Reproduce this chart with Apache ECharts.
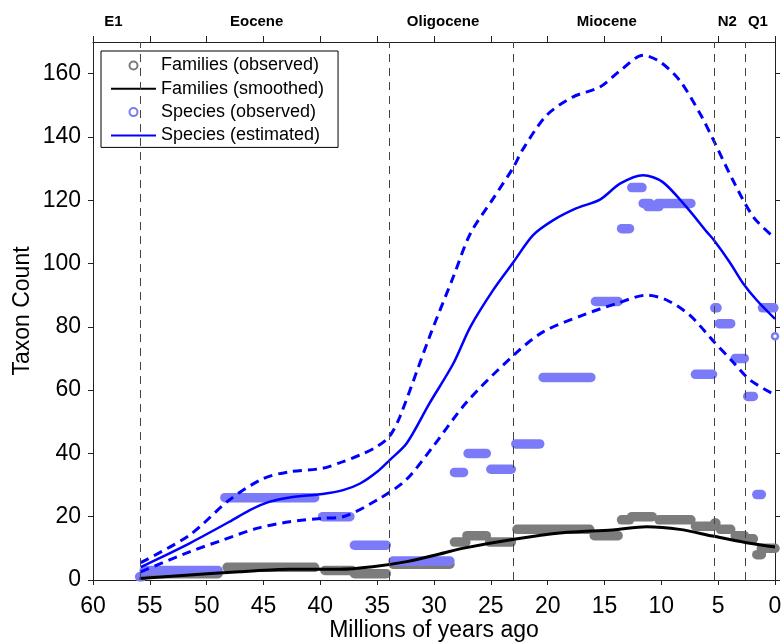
<!DOCTYPE html>
<html>
<head>
<meta charset="utf-8">
<script src="https://cdn.jsdelivr.net/npm/echarts@6/dist/echarts.min.js"></script>
<style>
html, body { margin: 0; padding: 0; background: #fff; }
#chart { width: 781px; height: 644px; }
</style>
</head>
<body>
<div id="chart"></div>
<script>
// x values are millions of years ago, axis is inverted (60 -> 0)
var xTicks = [0, 5, 10, 15, 20, 25, 30, 35, 40, 45, 50, 55, 60];
var yTicks = [0, 20, 40, 60, 80, 100, 120, 140, 160];

var epochNames = ['E1', 'Eocene', 'Oligocene', 'Miocene', 'N2', 'Q1'];
var epochLabelPos = [58.2, 45.6, 29.2, 14.8, 4.2, 1.5];
var epochBounds = [55.8, 33.9, 23.03, 5.332, 2.588];

// observed counts as [start, end, count] (one stage each)
var speciesObserved = [
    [55.9, 55.7, 1], [55.5, 49, 3], [48.4, 40.5, 26], [39.8, 37.4, 20], [37, 34.2, 11],
    [33.6, 28.6, 6], [28.2, 27.4, 34], [27, 25.4, 40], [25, 23.2, 35], [22.8, 20.7, 43],
    [20.4, 16.2, 64], [15.8, 13.8, 88], [13.5, 12.8, 111], [12.6, 11.7, 124], [11.6, 11.0, 119],
    [11.2, 10.2, 118], [10.3, 7.4, 119], [7.0, 5.5, 65], [5.3, 5.1, 86], [4.9, 3.9, 81],
    [3.5, 2.7, 70], [2.4, 1.9, 58], [1.6, 1.2, 27], [1.1, 0.1, 86], [0, 0, 77]
];
var familiesObserved = [
    [55.5, 49, 2], [48.2, 40.5, 4], [39.6, 37.2, 3], [37, 34.2, 2], [33.6, 28.6, 5],
    [28.2, 27.2, 12], [27.1, 25.4, 14], [25.1, 23.2, 12], [22.7, 16.3, 16], [15.9, 13.8, 14],
    [13.5, 12.8, 19], [12.6, 10.8, 20], [10.2, 7.4, 19], [7.0, 5.4, 17], [5.3, 5.2, 18],
    [4.8, 3.9, 16], [3.5, 2.7, 14], [2.4, 1.9, 13], [1.6, 1.2, 8], [1.2, 0, 10]
];

var speciesEstimated = [
    [55.8, 4.1], [54.1, 7], [51.5, 11.6], [48, 18.4], [46.2, 22.1], [44.5, 24.7],
    [42.7, 26.1], [39.8, 27.2], [38, 28.4], [36.5, 30.5], [35, 34.2], [33.9, 37.9],
    [32.4, 43.2], [30.4, 55.8], [28.3, 68.4], [26.8, 80], [24.8, 91.6], [23, 100.5],
    [21.3, 108.9], [19.5, 113.7], [17.5, 117.4], [15.4, 120.2], [13.6, 125.3], [11.6, 127.9],
    [9.9, 125.8], [7.8, 117.9], [6.0, 110], [5.4, 107.5], [4.0, 100.5], [2.8, 93.7],
    [1.6, 88.4], [0, 82.5]
];
var speciesUpper = [
    [55.8, 5.5], [51.5, 14.2], [48, 25.3], [45, 32.1], [42.7, 34.2], [39.8, 35.3],
    [38, 37.4], [36.5, 39.5], [35, 42.2], [33.9, 45.5], [33, 51.6], [30.4, 76.8],
    [28.3, 95.8], [26.8, 109.5], [24.8, 120.5], [23.0, 130.5], [22.2, 136], [20.1, 146.8],
    [17.8, 152.6], [15.4, 155.8], [13.6, 161], [11.6, 165.8], [10.1, 163.7], [8.4, 157.9],
    [6.6, 147.4], [5.4, 138.9], [3.7, 126.3], [1.9, 114.7], [0, 108]
];
var speciesLower = [
    [55.8, 2.6], [51.5, 8.9], [48.6, 12.6], [45.6, 16.3], [42.7, 18.4], [39.8, 19.5],
    [38, 20], [35, 25.3], [32.5, 31.5], [30.1, 42.1], [27.1, 56.3], [23, 71],
    [20.4, 78.4], [16.9, 83.7], [13.9, 87.4], [11.3, 90], [9.5, 88.4], [7.5, 83.7],
    [5.5, 75.8], [3.7, 68.9], [2.2, 63.2], [0, 58.5]
];
var familiesSmoothed = [
    [55.9, 0.5], [51.5, 1.6], [47.1, 2.6], [42.7, 3.4], [38.3, 3.4], [35.4, 4.2],
    [32.4, 5.8], [29.5, 8.2], [27.5, 10], [23.1, 12.8], [18.7, 14.9], [14.3, 15.8],
    [11.3, 16.8], [8.4, 16], [5.5, 13.9], [2.5, 11.8], [0, 10.4]
];

var FONT = '"Liberation Sans", Arial, Helvetica, sans-serif';
var BLUE = '#0000ff';
var LIGHTBLUE = '#7b7bfa';
var GRAY = '#7c7c7c';
var AXIS = '#222';

function segmentRenderer(color) {
    return function (params, api) {
        var s = api.value(0), e = api.value(1), v = api.value(2);
        var a = api.coord([s, v]);
        var b = api.coord([e, v]);
        if (s === e) {
            return {
                type: 'circle',
                shape: {cx: a[0], cy: a[1], r: 3},
                style: {fill: '#fff', stroke: color, lineWidth: 2.5}
            };
        }
        return {
            type: 'line',
            shape: {x1: a[0], y1: a[1], x2: b[0], y2: b[1]},
            style: {stroke: color, lineWidth: 9.5, lineCap: 'round'}
        };
    };
}

function frameAxis(extra) {
    var base = {
        type: 'value',
        nameMoveOverlap: false,
        axisLine: {show: true, onZero: false, lineStyle: {color: AXIS, width: 1}},
        axisTick: {show: true, inside: false, length: 5, lineStyle: {color: AXIS}},
        splitLine: {show: false}
    };
    return Object.assign(base, extra);
}

function curve(name, data, color, width, dash, z) {
    return {
        name: name,
        type: 'line',
        z: z,
        smooth: 0.3,
        symbol: 'none',
        itemStyle: {color: color},
        lineStyle: {color: color, width: width, type: dash || 'solid'},
        data: data
    };
}

var chart = echarts.init(document.getElementById('chart'));

var familiesLine = curve('Families (smoothed)', familiesSmoothed, '#000', 3, null, 4);
familiesLine.markLine = {
    silent: true,
    symbol: ['none', 'none'],
    label: {show: false},
    lineStyle: {color: '#444', width: 1, type: [8, 6]},
    data: epochBounds.map(function (b) { return {xAxis: b}; })
};

var option = {
    animation: false,
    textStyle: {fontFamily: FONT},
    grid: {left: 93, right: 6, top: 42, bottom: 64, containLabel: false, outerBoundsMode: 'none'},
    legend: {
        left: 101,
        top: 51,
        orient: 'vertical',
        itemWidth: 45,
        itemHeight: 8,
        itemGap: 3.3,
        padding: [4.5, 14, 2, 9],
        borderColor: '#000',
        borderWidth: 1,
        backgroundColor: '#fff',
        selectedMode: false,
        textStyle: {fontFamily: FONT, fontSize: 18, color: '#000', lineHeight: 20},
        data: [
            {name: 'Families (observed)', icon: 'circle', itemStyle: {color: '#fff', borderColor: GRAY, borderWidth: 2}},
            {name: 'Families (smoothed)', itemStyle: {opacity: 0}},
            {name: 'Species (observed)', icon: 'circle', itemStyle: {color: '#fff', borderColor: LIGHTBLUE, borderWidth: 2}},
            {name: 'Species (estimated)', itemStyle: {opacity: 0}}
        ]
    },
    xAxis: [
        frameAxis({
            position: 'bottom',
            min: 0,
            max: 60,
            interval: 5,
            inverse: true,
            name: 'Millions of years ago',
            nameLocation: 'middle',
            nameGap: 39,
            nameTextStyle: {fontFamily: FONT, fontSize: 23, color: '#000'},
            axisTick: {show: true, inside: false, length: 5, customValues: xTicks, lineStyle: {color: AXIS}},
            axisLabel: {fontFamily: FONT, fontSize: 23, color: '#000', margin: 15, customValues: xTicks}
        }),
        frameAxis({
            position: 'top',
            min: 0,
            max: 60,
            interval: 5,
            inverse: true,
            axisTick: {show: true, inside: false, length: 6, customValues: xTicks, lineStyle: {color: AXIS}},
            axisLabel: {
                fontFamily: FONT,
                fontSize: 15,
                fontWeight: 'bold',
                color: '#000',
                margin: 13,
                customValues: epochLabelPos,
                formatter: function (v) {
                    var best = 0;
                    epochLabelPos.forEach(function (p, i) {
                        if (Math.abs(p - v) < Math.abs(epochLabelPos[best] - v)) best = i;
                    });
                    return epochNames[best];
                }
            }
        })
    ],
    yAxis: [
        frameAxis({
            position: 'left',
            min: 0,
            max: 170,
            interval: 20,
            name: 'Taxon Count',
            nameLocation: 'middle',
            nameGap: 59,
            nameTextStyle: {fontFamily: FONT, fontSize: 23, color: '#000'},
            axisTick: {show: true, inside: false, length: 5, customValues: yTicks, lineStyle: {color: AXIS}},
            axisLabel: {fontFamily: FONT, fontSize: 23, color: '#000', margin: 12, customValues: yTicks}
        }),
        frameAxis({
            position: 'right',
            min: 0,
            max: 170,
            interval: 20,
            axisTick: {show: true, inside: false, length: 5, customValues: yTicks, lineStyle: {color: AXIS}},
            axisLabel: {show: false}
        })
    ],
    series: [
        {
            name: 'Families (observed)',
            type: 'custom',
            z: 1,
            itemStyle: {color: GRAY},
            encode: {x: [0, 1], y: 2},
            renderItem: segmentRenderer(GRAY),
            data: familiesObserved
        },
        {
            name: 'Species (observed)',
            type: 'custom',
            z: 2,
            itemStyle: {color: LIGHTBLUE},
            encode: {x: [0, 1], y: 2},
            renderItem: segmentRenderer(LIGHTBLUE),
            data: speciesObserved
        },
        curve('upper', speciesUpper, BLUE, 3, [9, 6], 3),
        curve('lower', speciesLower, BLUE, 3, [9, 6], 3),
        curve('Species (estimated)', speciesEstimated, BLUE, 2.5, null, 3),
        familiesLine
    ]
};

chart.setOption(option);
</script>
</body>
</html>
